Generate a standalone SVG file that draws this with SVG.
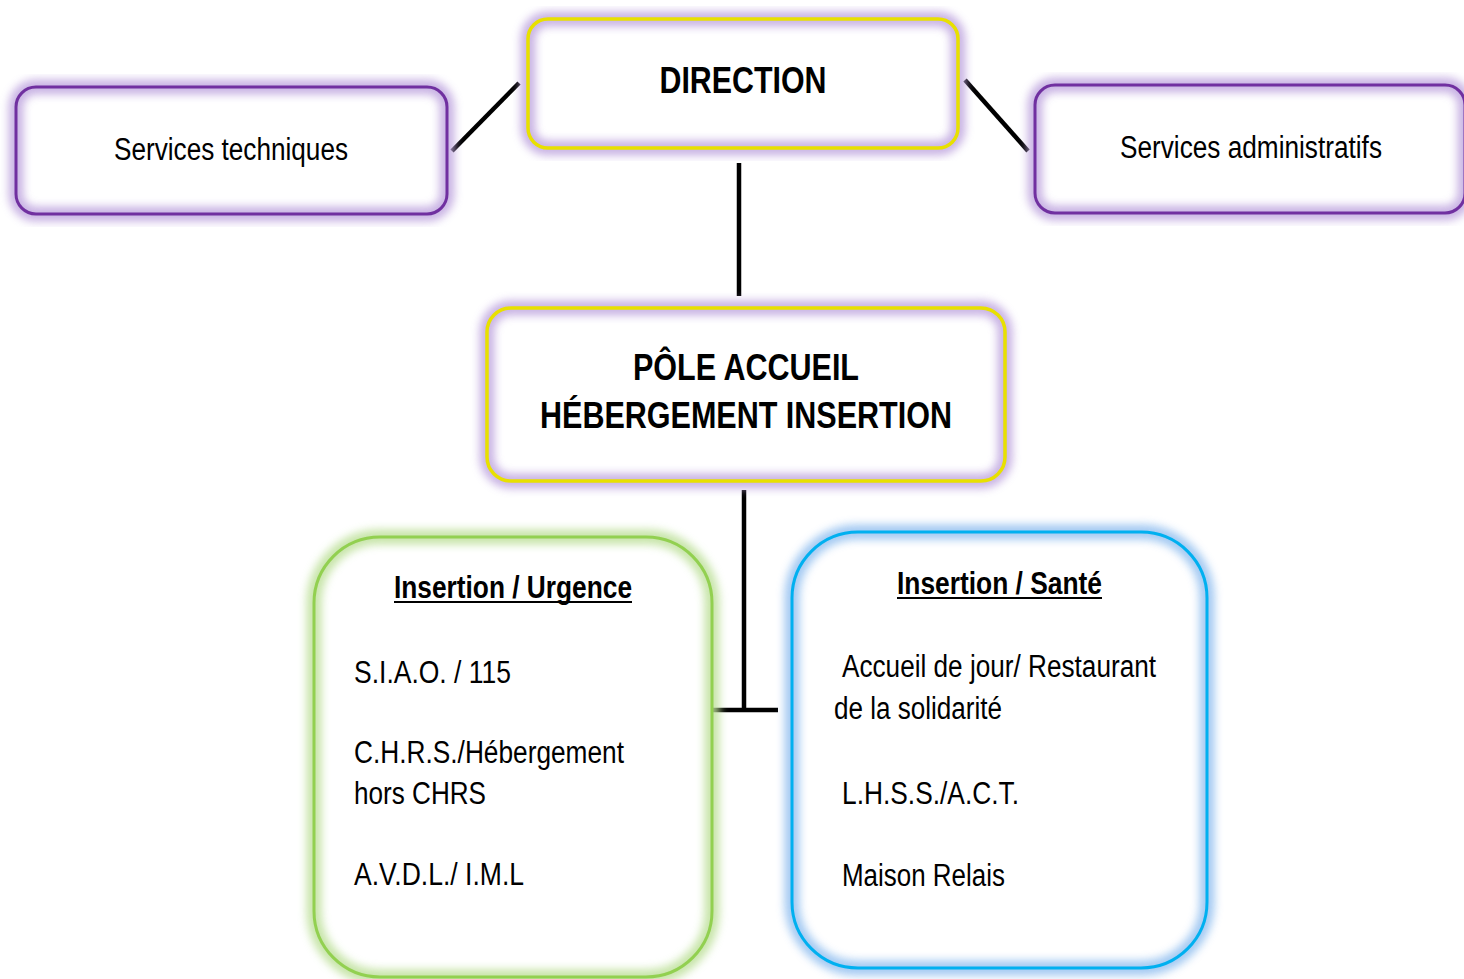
<svg xmlns="http://www.w3.org/2000/svg" width="1464" height="979" viewBox="0 0 1464 979">
<defs>
<filter id="glow" x="-10%" y="-10%" width="120%" height="120%"><feGaussianBlur stdDeviation="4"/></filter>
<style>
text{font-family:"Liberation Sans Narrow","Liberation Sans",Arial,sans-serif;fill:#000}
.b{font-weight:bold}
.body{font-size:31px}
.bg{fill:#fff;stroke:none}
.glowL{fill:none;stroke:#bfa6df;stroke-width:15;filter:url(#glow);opacity:0.85}
.glowG{fill:none;stroke:#bde09a;stroke-width:15;filter:url(#glow);opacity:0.85}
.glowB{fill:none;stroke:#93c0f0;stroke-width:15;filter:url(#glow);opacity:0.85}
.yel{fill:none;stroke:#e8e000;stroke-width:3.5}
.pur{fill:none;stroke:#7030a0;stroke-width:3}
.grn{fill:none;stroke:#92d050;stroke-width:3}
.blu{fill:none;stroke:#00b0f0;stroke-width:3}
.conn line{stroke:#000;stroke-width:4.5}
</style>
</defs>
<rect width="1464" height="979" fill="#fff"/>
<g id="connectors" class="conn">
<line x1="452" y1="151" x2="519" y2="83"/>
<line x1="965" y1="80" x2="1028" y2="151"/>
<line x1="739" y1="163" x2="739" y2="296"/>
<line x1="744" y1="490" x2="744" y2="712"/>
<line x1="712" y1="710" x2="778" y2="710"/>
</g>
<g id="direction">
<rect class="bg" x="528" y="19" width="430" height="129" rx="20"/>
<rect class="glowL" x="528" y="19" width="430" height="129" rx="20"/>
<rect class="yel" x="528" y="19" width="430" height="129" rx="20"/>
<text class="b" x="743" y="93" font-size="37" text-anchor="middle" textLength="167" lengthAdjust="spacingAndGlyphs">DIRECTION</text>
</g>
<g id="services-techniques">
<rect class="bg" x="16" y="87" width="431" height="127" rx="20"/>
<rect class="glowL" x="16" y="87" width="431" height="127" rx="20"/>
<rect class="pur" x="16" y="87" width="431" height="127" rx="20"/>
<text x="114" y="160" font-size="31" textLength="234" lengthAdjust="spacingAndGlyphs">Services techniques</text>
</g>
<g id="services-administratifs">
<rect class="bg" x="1035" y="85" width="430" height="128" rx="20"/>
<rect class="glowL" x="1035" y="85" width="430" height="128" rx="20"/>
<rect class="pur" x="1035" y="85" width="430" height="128" rx="20"/>
<text x="1120" y="158" font-size="31" textLength="262" lengthAdjust="spacingAndGlyphs">Services administratifs</text>
</g>
<g id="pole">
<rect class="bg" x="487" y="308" width="518" height="173" rx="24"/>
<rect class="glowL" x="487" y="308" width="518" height="173" rx="24"/>
<rect class="yel" x="487" y="308" width="518" height="173" rx="24"/>
<text class="b" x="746" y="380" font-size="36" text-anchor="middle" textLength="226" lengthAdjust="spacingAndGlyphs">PÔLE ACCUEIL</text>
<text class="b" x="746" y="428" font-size="36" text-anchor="middle" textLength="412" lengthAdjust="spacingAndGlyphs">HÉBERGEMENT INSERTION</text>
</g>
<g id="insertion-urgence">
<rect class="bg" x="314" y="537" width="398" height="440" rx="66"/>
<rect class="glowG" x="314" y="537" width="398" height="440" rx="66"/>
<rect class="grn" x="314" y="537" width="398" height="440" rx="66"/>
<text class="b" x="394" y="598" font-size="31" textLength="238" lengthAdjust="spacingAndGlyphs">Insertion / Urgence</text>
<line x1="394" y1="602" x2="632" y2="602" stroke="#000" stroke-width="2"/>
<text class="body" x="354" y="683" textLength="157" lengthAdjust="spacingAndGlyphs">S.I.A.O. / 115</text>
<text class="body" x="354" y="763" textLength="270" lengthAdjust="spacingAndGlyphs">C.H.R.S./Hébergement</text>
<text class="body" x="354" y="804" textLength="132" lengthAdjust="spacingAndGlyphs">hors CHRS</text>
<text class="body" x="354" y="885" textLength="170" lengthAdjust="spacingAndGlyphs">A.V.D.L./ I.M.L</text>
</g>
<g id="insertion-sante">
<rect class="bg" x="792" y="532" width="415" height="436" rx="66"/>
<rect class="glowB" x="792" y="532" width="415" height="436" rx="66"/>
<rect class="blu" x="792" y="532" width="415" height="436" rx="66"/>
<text class="b" x="897" y="594" font-size="31" textLength="205" lengthAdjust="spacingAndGlyphs">Insertion / Santé</text>
<line x1="897" y1="598" x2="1102" y2="598" stroke="#000" stroke-width="2"/>
<text class="body" x="842" y="677" textLength="314" lengthAdjust="spacingAndGlyphs">Accueil de jour/ Restaurant</text>
<text class="body" x="834" y="719" textLength="168" lengthAdjust="spacingAndGlyphs">de la solidarité</text>
<text class="body" x="842" y="804" textLength="177" lengthAdjust="spacingAndGlyphs">L.H.S.S./A.C.T.</text>
<text class="body" x="842" y="886" textLength="163" lengthAdjust="spacingAndGlyphs">Maison Relais</text>
</g>
</svg>
